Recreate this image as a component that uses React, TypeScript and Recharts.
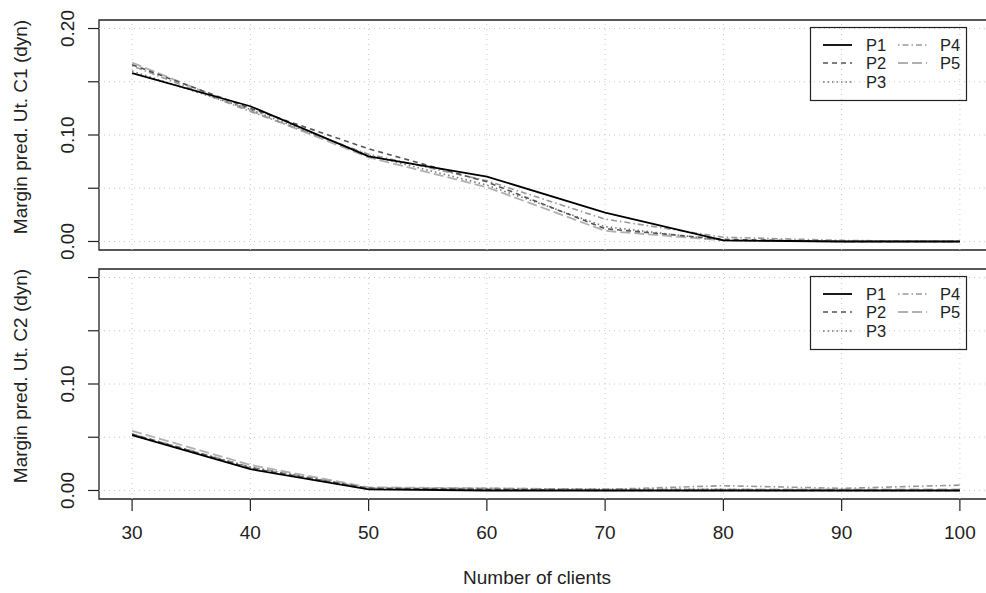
import React from 'react';
import { LineChart, Line, XAxis, YAxis, ReferenceLine, ReferenceArea, Legend } from 'recharts';

const clients = [30, 40, 50, 60, 70, 80, 90, 100];

// Panel 1: Margin pred. Ut. C1 (dyn)
const c1P1 = [0.158, 0.127, 0.080, 0.061, 0.027, 0.001, 0.0, 0.0];
const c1P2 = [0.166, 0.125, 0.087, 0.056, 0.012, 0.002, 0.0, 0.0];
const c1P3 = [0.160, 0.124, 0.081, 0.053, 0.014, 0.001, 0.0, 0.0];
const c1P4 = [0.165, 0.122, 0.082, 0.057, 0.021, 0.004, 0.001, 0.0];
const c1P5 = [0.168, 0.123, 0.079, 0.051, 0.010, 0.001, 0.0, 0.0];

// Panel 2: Margin pred. Ut. C2 (dyn)
const c2P1 = [0.052, 0.020, 0.001, 0.0, 0.0, 0.0, 0.0, 0.0];
const c2P2 = [0.053, 0.021, 0.002, 0.001, 0.0, 0.0, 0.0, 0.0];
const c2P3 = [0.052, 0.022, 0.002, 0.001, 0.001, 0.001, 0.0, 0.0];
const c2P4 = [0.053, 0.022, 0.002, 0.002, 0.001, 0.0045, 0.002, 0.005];
const c2P5 = [0.056, 0.024, 0.003, 0.002, 0.001, 0.001, 0.001, 0.001];

const seriesNames = ['P1', 'P2', 'P3', 'P4', 'P5'];
const xTicks = [30, 40, 50, 60, 70, 80, 90, 100];
const yTicks = [0, 0.05, 0.1, 0.15, 0.2];
const topYLabeled = [0, 0.1, 0.2];
const bottomYLabeled = [0, 0.1];
const xDomain = [27.2, 102.8];
const yDomain = [-0.008, 0.208];

const FONT = '"Liberation Sans", Arial, Helvetica, sans-serif';
const TXT = '#222';
const FS = 19;

const seriesStyle: Record<string, { color: string; dash?: string; width: number }> = {
  P1: { color: '#000000', width: 1.8 },
  P2: { color: '#555555', dash: '5 4', width: 1.6 },
  P3: { color: '#777777', dash: '1.5 3', width: 1.6 },
  P4: { color: '#999999', dash: '1.5 3 6 3', width: 1.6 },
  P5: { color: '#b0b0b0', dash: '10 4', width: 1.8 },
};

const buildData = (arrs: number[][]) =>
  clients.map((c, i) => {
    const row: Record<string, number> = { clients: c };
    seriesNames.forEach((n, k) => {
      row[n] = arrs[k][i];
    });
    return row;
  });

const dataC1 = buildData([c1P1, c1P2, c1P3, c1P4, c1P5]);
const dataC2 = buildData([c2P1, c2P2, c2P3, c2P4, c2P5]);

const makeYTick = (labeled: number[]) => (props: any) => {
  const { x, y, payload } = props;
  const v = payload.value as number;
  if (!labeled.some((l) => Math.abs(l - v) < 1e-9)) return <g />;
  return (
    <text
      x={x}
      y={y}
      transform={`rotate(-90, ${x}, ${y})`}
      textAnchor="middle"
      fontSize={FS}
      fontFamily={FONT}
      fill={TXT}
    >
      {v.toFixed(2)}
    </text>
  );
};

const LegendBox = () => {
  const col1 = ['P1', 'P2', 'P3'];
  const col2 = ['P4', 'P5'];
  const rows = [18, 36, 55];
  const item = (name: string, sx: number, tx: number, ry: number) => {
    const s = seriesStyle[name];
    return (
      <g key={name}>
        <line x1={sx} x2={sx + 29} y1={ry} y2={ry} stroke={s.color} strokeWidth={s.width} strokeDasharray={s.dash} />
        <text x={tx} y={ry + 6} fontSize={16.5} fontFamily={FONT} fill={TXT}>
          {name}
        </text>
      </g>
    );
  };
  return (
    <svg width={158} height={75} style={{ display: 'block', overflow: 'visible' }}>
      <rect x={0.5} y={0.5} width={156} height={73} fill="none" stroke="#222" strokeWidth={1.2} />
      {col1.map((n, i) => item(n, 13, 56, rows[i]))}
      {col2.map((n, i) => item(n, 88, 130, rows[i]))}
    </svg>
  );
};

type PanelProps = {
  data: Record<string, number>[];
  labeled: number[];
  height: number;
  top: number;
  marginTop: number;
  marginBottom: number;
  showX: boolean;
  legendTop: number;
};

const Panel = ({ data, labeled, height, top, marginTop, marginBottom, showX, legendTop }: PanelProps) => (
  <div style={{ position: 'absolute', left: 0, top }}>
    <LineChart
      width={994}
      height={height}
      data={data}
      margin={{ top: marginTop, right: 1, bottom: marginBottom, left: 0 }}
    >
      <XAxis
        dataKey="clients"
        type="number"
        domain={xDomain}
        ticks={xTicks}
        allowDataOverflow
        hide={!showX}
        axisLine={false}
        tickSize={12}
        tickMargin={15}
        height={94}
        tickLine={{ stroke: '#222', strokeWidth: 1.2 }}
        tick={{ fontSize: FS, fontFamily: FONT, fill: TXT }}
        interval={0}
      />
      <YAxis
        type="number"
        domain={yDomain}
        ticks={yTicks}
        allowDataOverflow
        width={99}
        axisLine={false}
        tickSize={11}
        tickMargin={14}
        tickLine={{ stroke: '#222', strokeWidth: 1.2 }}
        tick={makeYTick(labeled)}
        interval={0}
      />
      {xTicks.map((t) => (
        <ReferenceLine key={`vx${t}`} x={t} stroke="#c8c8c8" strokeDasharray="1 4" strokeWidth={1} />
      ))}
      {yTicks.map((t) => (
        <ReferenceLine key={`hy${t}`} y={t} stroke="#c8c8c8" strokeDasharray="1 4" strokeWidth={1} />
      ))}
      <ReferenceArea
        x1={xDomain[0]}
        x2={xDomain[1]}
        y1={yDomain[0]}
        y2={yDomain[1]}
        fill="none"
        fillOpacity={0}
        stroke="#222"
        strokeWidth={1.3}
        ifOverflow="visible"
      />
      {['P5', 'P4', 'P3', 'P2', 'P1'].map((n) => (
        <Line
          key={n}
          type="linear"
          dataKey={n}
          stroke={seriesStyle[n].color}
          strokeWidth={seriesStyle[n].width}
          strokeDasharray={seriesStyle[n].dash}
          dot={false}
          activeDot={false}
          isAnimationActive={false}
        />
      ))}
      <Legend
        layout="vertical"
        align="center"
        verticalAlign="middle"
        content={() => <LegendBox />}
        wrapperStyle={{ position: 'absolute', left: 810, top: legendTop, width: 158, height: 75, margin: 0, padding: 0 }}
      />
    </LineChart>
  </div>
);

export default function App() {
  return (
    <div
      style={{
        position: 'absolute',
        left: 0,
        top: 0,
        width: 986,
        height: 593,
        overflow: 'hidden',
        background: '#ffffff',
        fontFamily: FONT,
      }}
    >
      <Panel data={dataC1} labeled={topYLabeled} height={259} top={0} marginTop={20} marginBottom={9} showX={false} legendTop={27} />
      <Panel data={dataC2} labeled={bottomYLabeled} height={334} top={259} marginTop={10} marginBottom={0} showX legendTop={17} />
      <svg width={986} height={593} style={{ position: 'absolute', left: 0, top: 0, pointerEvents: 'none' }}>
        <text x={20} y={127} transform="rotate(-90, 20, 127)" textAnchor="middle" dominantBaseline="central" fontSize={FS} fontFamily={FONT} fill={TXT}>
          Margin pred. Ut. C1 (dyn)
        </text>
        <text x={20} y={376} transform="rotate(-90, 20, 376)" textAnchor="middle" dominantBaseline="central" fontSize={FS} fontFamily={FONT} fill={TXT}>
          Margin pred. Ut. C2 (dyn)
        </text>
        <text x={537} y={577} textAnchor="middle" dominantBaseline="central" fontSize={FS} fontFamily={FONT} fill={TXT}>
          Number of clients
        </text>
      </svg>
    </div>
  );
}
